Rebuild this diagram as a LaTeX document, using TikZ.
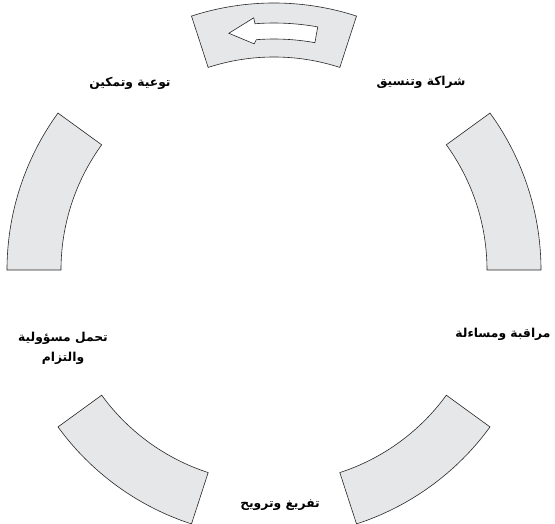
\documentclass[tikz,border=0pt]{standalone}
\usepackage{fontspec}
\newfontfamily\arabicfont[Script=Arabic]{DejaVu Sans}
\TeXXeTstate=1
\definecolor{segfill}{RGB}{230,231,232}
\begin{document}
\begin{tikzpicture}[x=1pt,y=1pt,
  seg/.style={fill=segfill,draw=black!85,line width=0.6pt,line join=miter},
  lbl/.style={font=\arabicfont\bfseries\fontsize{12.3}{20}\selectfont,align=center,inner sep=1pt}]
  \useasboundingbox (-274,-254) rectangle (281,270);
  \foreach \a in {0,72,...,288}
    \draw[seg] (\a:213) arc[start angle=\a,end angle=\a+36,radius=213]
      -- (\a+36:267) arc[start angle=\a+36,end angle=\a,radius=267] -- cycle;
  \coordinate (tip) at (100.8:241);
  \draw[fill=white,draw=black!85,line width=0.6pt] (tip) -- (94.6:253) -- (94.4:247)
    arc[start angle=94.4,end angle=79.8,radius=247] -- (79.8:231)
    arc[start angle=79.8,end angle=94.4,radius=231] -- (95:227) -- cycle;
  \node[lbl] (partner) at (147,188) {\beginR شراكة وتنسيق\endR};
  \node[lbl] (aware) at (-144,187) {\beginR توعية وتمكين\endR};
  \node[lbl] (monitor) at (229,-64) {\beginR مراقبة ومساءلة\endR};
  \node[lbl] (commit) at (-211,-78) {\beginR تحمل مسؤولية\endR\\\beginR والتزام\endR};
  \node[lbl] (relief) at (6,-235) {\beginR تفريغ وترويح\endR};
\end{tikzpicture}
\end{document}
